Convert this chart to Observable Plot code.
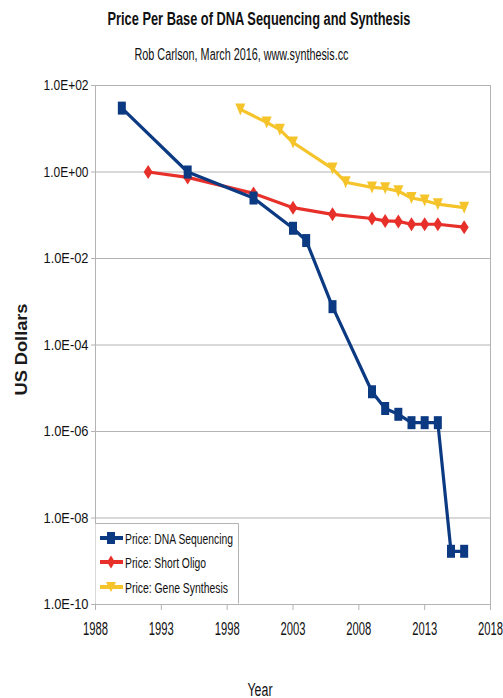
<!DOCTYPE html>
<html>
<head>
<meta charset="utf-8">
<script src="https://cdn.jsdelivr.net/npm/d3@7"></script>
<script src="https://cdn.jsdelivr.net/npm/@observablehq/plot@0.6"></script>
<style>
  body { margin: 0; background: #fff; }
  #wrap { position: relative; width: 503px; height: 698px; overflow: hidden; }
  #legend { position: absolute; left: 0; top: 0; }
</style>
</head>
<body>
<div id="wrap"></div>
<script>
const seqYears   = [1990, 1995, 2000, 2003, 2004, 2006, 2009, 2010, 2011, 2012, 2013, 2014, 2015, 2016];
const seqPrice   = [30, 1.0, 0.25, 0.05, 0.026, 7.7e-4, 8.3e-6, 3.4e-6, 2.5e-6, 1.6e-6, 1.6e-6, 1.6e-6, 1.7e-9, 1.7e-9];
const oligoYears = [1992, 1995, 2000, 2003, 2006, 2009, 2010, 2011, 2012, 2013, 2014, 2016];
const oligoPrice = [1.0, 0.75, 0.32, 0.15, 0.105, 0.084, 0.074, 0.072, 0.062, 0.062, 0.062, 0.053];
const geneYears  = [1999, 2001, 2002, 2003, 2006, 2007, 2009, 2010, 2011, 2012, 2013, 2014, 2016];
const genePrice  = [28, 14, 9.5, 4.8, 1.2, 0.58, 0.44, 0.42, 0.36, 0.25, 0.22, 0.18, 0.15];
const seriesNames = ["Price: DNA Sequencing", "Price: Short Oligo", "Price: Gene Synthesis"];
const seriesColors = ["#0b3a82", "#e8302a", "#f5c42a"];
const xTicks = [1988, 1993, 1998, 2003, 2008, 2013, 2018];
const yTicks = [1e2, 1, 1e-2, 1e-4, 1e-6, 1e-8, 1e-10];
const titleText = "Price Per Base of DNA Sequencing and Synthesis";
const subtitleText = "Rob Carlson, March 2016, www.synthesis.cc";
const xLabel = "Year";
const yLabel = "US Dollars";

const seq = seqYears.map((y, i) => ({year: y, price: seqPrice[i]}));
const oligo = oligoYears.map((y, i) => ({year: y, price: oligoPrice[i]}));
const gene = geneYears.map((y, i) => ({year: y, price: genePrice[i]}));

const squareSym = {draw(ctx) { ctx.rect(-4, -6.5, 8, 13); }};
const diamondSym = {draw(ctx) { ctx.moveTo(0, -7); ctx.lineTo(4.5, 0); ctx.lineTo(0, 7); ctx.lineTo(-4.5, 0); ctx.closePath(); }};
const triSym = {draw(ctx) { ctx.moveTo(-5, -6); ctx.lineTo(5, -6); ctx.lineTo(0, 6); ctx.closePath(); }};

const fmtE = d => {
  const e = Math.round(Math.log10(d));
  return "1.0E" + (e >= 0 ? "+" : "-") + String(Math.abs(e)).padStart(2, "0");
};
const sans = "'Liberation Sans', Arial, sans-serif";
const grey = "#b3b3b3";

const chart = Plot.plot({
  width: 503,
  height: 698,
  marginTop: 85,
  marginBottom: 94,
  marginLeft: 95,
  marginRight: 13,
  style: {fontFamily: sans, fontSize: "13px", color: "#111", background: "#fff"},
  x: {domain: [1988, 2018], label: null},
  y: {type: "log", domain: [1e-10, 1e2], label: null},
  marks: [
    Plot.gridY(yTicks, {stroke: grey, strokeOpacity: 1, strokeWidth: 1}),
    Plot.ruleX([2018], {stroke: grey, strokeWidth: 1}),
    Plot.ruleX([1988], {stroke: grey, strokeWidth: 1}),
    Plot.ruleY([1e-10], {stroke: grey, strokeWidth: 1}),
    Plot.axisY({ticks: yTicks, tickFormat: fmtE, tickSize: 4, tickPadding: 3, stroke: grey, fontSize: 15, label: null}),
    Plot.axisX({ticks: xTicks, tickFormat: d => String(d), tickSize: 6, tickPadding: 12, stroke: grey, fontSize: 18, label: null}),
    Plot.line(gene, {x: "year", y: "price", stroke: seriesColors[2], strokeWidth: 3.2}),
    Plot.dot(gene, {x: "year", y: "price", symbol: triSym, fill: seriesColors[2], stroke: "none"}),
    Plot.line(oligo, {x: "year", y: "price", stroke: seriesColors[1], strokeWidth: 3.2}),
    Plot.dot(oligo, {x: "year", y: "price", symbol: diamondSym, fill: seriesColors[1], stroke: "none"}),
    Plot.line(seq, {x: "year", y: "price", stroke: seriesColors[0], strokeWidth: 3.2}),
    Plot.dot(seq, {x: "year", y: "price", symbol: squareSym, fill: seriesColors[0], stroke: "none"}),
    Plot.text([titleText], {frameAnchor: "top", dy: -73, dx: -34, fontSize: 18, fontWeight: "bold", fill: "#111"}),
    Plot.text([subtitleText], {frameAnchor: "top", dy: -37, dx: -51.5, fontSize: 16, fill: "#111"}),
    Plot.text([xLabel], {frameAnchor: "bottom", dy: 91, dx: -33, fontSize: 18, fill: "#111"}),
    Plot.text([yLabel], {frameAnchor: "left", textAnchor: "middle", dx: -74, dy: 4.5, rotate: -90, fontSize: 16, fontWeight: "bold", fill: "#1a1a1a"})
  ]
});

const squeeze = (el, len) => { el.setAttribute("textLength", len); el.setAttribute("lengthAdjust", "spacingAndGlyphs"); };
chart.querySelectorAll("[aria-label='y-axis tick label'] text").forEach(t => squeeze(t, 45));
chart.querySelectorAll("[aria-label='x-axis tick label'] text").forEach(t => squeeze(t, 25));
chart.querySelectorAll("text").forEach(t => {
  const s = t.textContent;
  if (s === titleText) squeeze(t, 303);
  else if (s === subtitleText) squeeze(t, 214);
  else if (s === xLabel) squeeze(t, 25);
  else if (s === yLabel) squeeze(t, 92);
});
const wrap = document.getElementById("wrap");
wrap.appendChild(chart);

// legend (inside plot area, lower-left)
const lg = d3.select(wrap).append("svg").attr("id", "legend").attr("width", 503).attr("height", 698)
  .style("pointer-events", "none");
lg.append("rect").attr("x", 95.5).attr("y", 523.5).attr("width", 142).attr("height", 80)
  .attr("fill", "#fff").attr("stroke", "none");
lg.append("path").attr("d", "M95.5,523.5 H238.5 V603.5").attr("fill", "none").attr("stroke", grey);
const rowY = [538, 562, 587];
const textLens = [108, 81, 103];
const syms = [
  cy => `M107,${cy - 6} h8 v12 h-8Z`,
  cy => `M111,${cy - 6.5} L115,${cy} L111,${cy + 6.5} L107,${cy}Z`,
  cy => `M106,${cy - 5} L116,${cy - 5} L111,${cy + 5}Z`
];
seriesNames.forEach((name, i) => {
  const cy = rowY[i];
  lg.append("line").attr("x1", 100).attr("x2", 123).attr("y1", cy).attr("y2", cy)
    .attr("stroke", seriesColors[i]).attr("stroke-width", 4);
  lg.append("path").attr("d", syms[i](cy)).attr("fill", seriesColors[i]);
  lg.append("text").attr("x", 125).attr("y", cy + 5.5).attr("font-family", sans).attr("font-size", 15)
    .attr("fill", "#111").attr("textLength", textLens[i]).attr("lengthAdjust", "spacingAndGlyphs").text(name);
});
</script>
</body>
</html>
